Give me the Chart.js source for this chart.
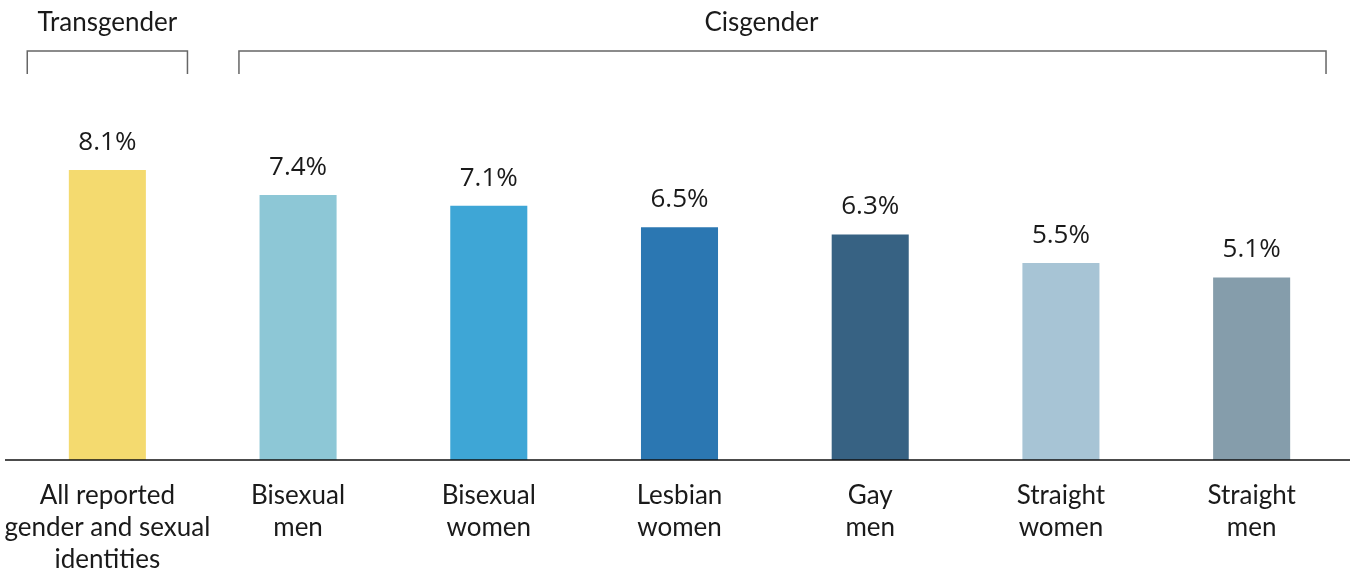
<!DOCTYPE html>
<html lang="en">
<head>
    <meta charset="UTF-8">
    <title>Rates by gender and sexual identity</title>
    <script src="https://cdn.jsdelivr.net/npm/chart.js"></script>
    <style>
        html, body {
            margin: 0;
            padding: 0;
            background: #fff;
        }
        .chart-box {
            width: 1351px;
            height: 573px;
            position: relative;
        }
    </style>
</head>
<body>
    <div class="chart-box">
        <canvas id="rateChart"></canvas>
    </div>

    <script>
        // Categories and values
        const categories = [
            ['All reported', 'gender and sexual', 'identities'],
            ['Bisexual', 'men'],
            ['Bisexual', 'women'],
            ['Lesbian', 'women'],
            ['Gay', 'men'],
            ['Straight', 'women'],
            ['Straight', 'men']
        ];
        const rates = [8.1, 7.4, 7.1, 6.5, 6.3, 5.5, 5.1];
        const barColors = ['#f4da6f', '#8dc7d6', '#3ea6d6', '#2b77b2', '#376283', '#a7c4d5', '#859dab'];

        // Group headers
        const groupLabels = ['Transgender', 'Cisgender'];

        const textColor = '#1a1a1a';

        // Brackets + group headers + baseline + value labels
        const decorPlugin = {
            id: 'decor',
            afterDatasetsDraw(chart) {
                const ctx = chart.ctx;
                const x = chart.scales.x;
                const y = chart.scales.y;
                const step = x.getPixelForValue(1) - x.getPixelForValue(0);

                // baseline
                ctx.save();
                ctx.strokeStyle = '#111';
                ctx.lineWidth = 1.5;
                ctx.beginPath();
                ctx.moveTo(5, y.getPixelForValue(0));
                ctx.lineTo(chart.width - 1, y.getPixelForValue(0));
                ctx.stroke();

                // value labels above bars
                ctx.font = '26px "Open Sans", sans-serif';
                ctx.fillStyle = textColor;
                ctx.textAlign = 'center';
                ctx.textBaseline = 'alphabetic';
                const meta = chart.getDatasetMeta(0);
                meta.data.forEach((bar, i) => {
                    ctx.fillText(rates[i].toFixed(1) + '%', bar.x, bar.y - 20);
                });

                // brackets
                ctx.strokeStyle = '#666';
                ctx.lineWidth = 1.5;
                const top = 51, bottom = 74;
                const spans = [
                    [x.getPixelForValue(0) - step * 0.42, x.getPixelForValue(0) + step * 0.42],
                    [x.getPixelForValue(1) - step * 0.31, x.getPixelForValue(6) + step * 0.39]
                ];
                spans.forEach(([l, r]) => {
                    ctx.beginPath();
                    ctx.moveTo(l, bottom);
                    ctx.lineTo(l, top);
                    ctx.lineTo(r, top);
                    ctx.lineTo(r, bottom);
                    ctx.stroke();
                });

                // group headers
                ctx.font = '26px Lato, sans-serif';
                ctx.fillStyle = textColor;
                const headX = [
                    x.getPixelForValue(0),
                    (spans[1][0] + spans[1][1]) / 2 - 21
                ];
                groupLabels.forEach((g, i) => {
                    ctx.fillText(g, headX[i], 31);
                });
                ctx.restore();
            }
        };

        new Chart(document.getElementById('rateChart'), {
            type: 'bar',
            data: {
                labels: categories,
                datasets: [{
                    data: rates,
                    backgroundColor: barColors,
                    borderWidth: 0,
                    barPercentage: 0.404,
                    categoryPercentage: 1
                }]
            },
            options: {
                responsive: true,
                maintainAspectRatio: false,
                animation: false,
                layout: {
                    padding: { top: 102, left: 12, right: 4, bottom: 0 }
                },
                plugins: {
                    legend: { display: false },
                    tooltip: { enabled: false }
                },
                scales: {
                    x: {
                        grid: { display: false, drawTicks: false },
                        border: { display: false },
                        ticks: {
                            color: textColor,
                            font: { family: 'Lato', size: 26, lineHeight: 1.23 },
                            padding: 20,
                            maxRotation: 0,
                            autoSkip: false
                        },
                        afterFit(scale) {
                            // keep the wide first label from pushing the plot area
                            scale.height = 113;
                            scale.paddingLeft = 0;
                            scale.paddingRight = 0;
                        }
                    },
                    y: {
                        display: false,
                        min: 0,
                        max: 10
                    }
                }
            },
            plugins: [decorPlugin]
        });
    </script>
</body>
</html>
